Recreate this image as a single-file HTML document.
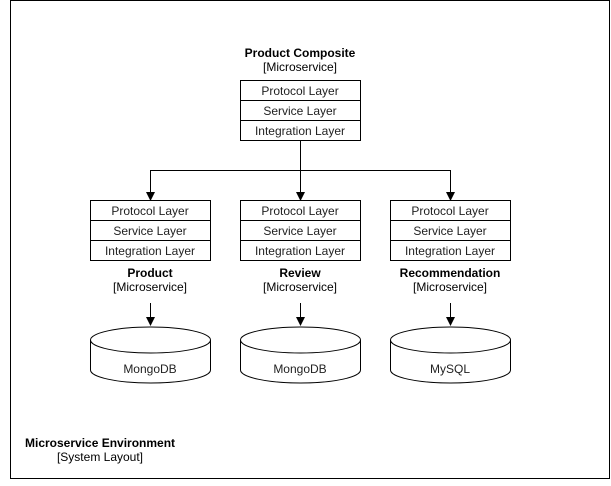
<!DOCTYPE html>
<html><head><style>body{margin:0;background:#fff}</style></head><body>
<svg width="611" height="481" xmlns="http://www.w3.org/2000/svg" font-family="Liberation Sans, sans-serif" font-size="12">
<rect x="10.5" y="0.5" width="599" height="478" fill="#fff" stroke="#000"/>
<g text-anchor="middle">
<text x="300" y="57" font-weight="bold">Product Composite</text>
<text x="300" y="71">[Microservice]</text>
</g>
<g fill="#fff" stroke="#000">
<rect x="240.5" y="80.5" width="120" height="20"/><rect x="240.5" y="100.5" width="120" height="20"/><rect x="240.5" y="120.5" width="120" height="20"/>
</g>
<g text-anchor="middle" fill="#222">
<text x="300" y="95">Protocol Layer</text><text x="300" y="115">Service Layer</text><text x="300" y="135">Integration Layer</text>
</g>
<g stroke="#000" fill="none">
<path d="M300.5 140 V194 M150.5 194 V170.5 H450.5 V194"/>
</g>
<g fill="#000">
<path d="M146 192 L155 192 L150.5 201 Z"/><path d="M296 192 L305 192 L300.5 201 Z"/><path d="M446 192 L455 192 L450.5 201 Z"/>
</g>
<g id="s">
</g>
<!-- three services -->
<g fill="#fff" stroke="#000">
<rect x="90.5" y="200.5" width="120" height="20"/><rect x="90.5" y="220.5" width="120" height="20"/><rect x="90.5" y="240.5" width="120" height="20"/>
<rect x="240.5" y="200.5" width="120" height="20"/><rect x="240.5" y="220.5" width="120" height="20"/><rect x="240.5" y="240.5" width="120" height="20"/>
<rect x="390.5" y="200.5" width="120" height="20"/><rect x="390.5" y="220.5" width="120" height="20"/><rect x="390.5" y="240.5" width="120" height="20"/>
</g>
<g text-anchor="middle" fill="#222">
<text x="150" y="215">Protocol Layer</text><text x="150" y="235">Service Layer</text><text x="150" y="255">Integration Layer</text>
<text x="300" y="215">Protocol Layer</text><text x="300" y="235">Service Layer</text><text x="300" y="255">Integration Layer</text>
<text x="450" y="215">Protocol Layer</text><text x="450" y="235">Service Layer</text><text x="450" y="255">Integration Layer</text>
</g>
<g text-anchor="middle">
<text x="150" y="277" font-weight="bold">Product</text><text x="150" y="291">[Microservice]</text>
<text x="300" y="277" font-weight="bold">Review</text><text x="300" y="291">[Microservice]</text>
<text x="450" y="277" font-weight="bold">Recommendation</text><text x="450" y="291">[Microservice]</text>
</g>
<g stroke="#000" fill="none">
<path d="M150.5 303 V319 M300.5 303 V319 M450.5 303 V319"/>
</g>
<g fill="#000">
<path d="M146 317 L155 317 L150.5 326 Z"/><path d="M296 317 L305 317 L300.5 326 Z"/><path d="M446 317 L455 317 L450.5 326 Z"/>
</g>
<g fill="#fff" stroke="#000">
<path d="M90.5 340 A60 13 0 0 1 210.5 340 V370 A60 13 0 0 1 90.5 370 Z"/><path d="M90.5 340 A60 13 0 0 0 210.5 340"/>
<path d="M240.5 340 A60 13 0 0 1 360.5 340 V370 A60 13 0 0 1 240.5 370 Z"/><path d="M240.5 340 A60 13 0 0 0 360.5 340"/>
<path d="M390.5 340 A60 13 0 0 1 510.5 340 V370 A60 13 0 0 1 390.5 370 Z"/><path d="M390.5 340 A60 13 0 0 0 510.5 340"/>
</g>
<g text-anchor="middle" fill="#222">
<text x="150" y="373">MongoDB</text><text x="300" y="373">MongoDB</text><text x="450" y="373">MySQL</text>
</g>
<text x="25" y="447" font-weight="bold">Microservice Environment</text>
<text x="100" y="461" text-anchor="middle">[System Layout]</text>
</svg>
</body></html>
